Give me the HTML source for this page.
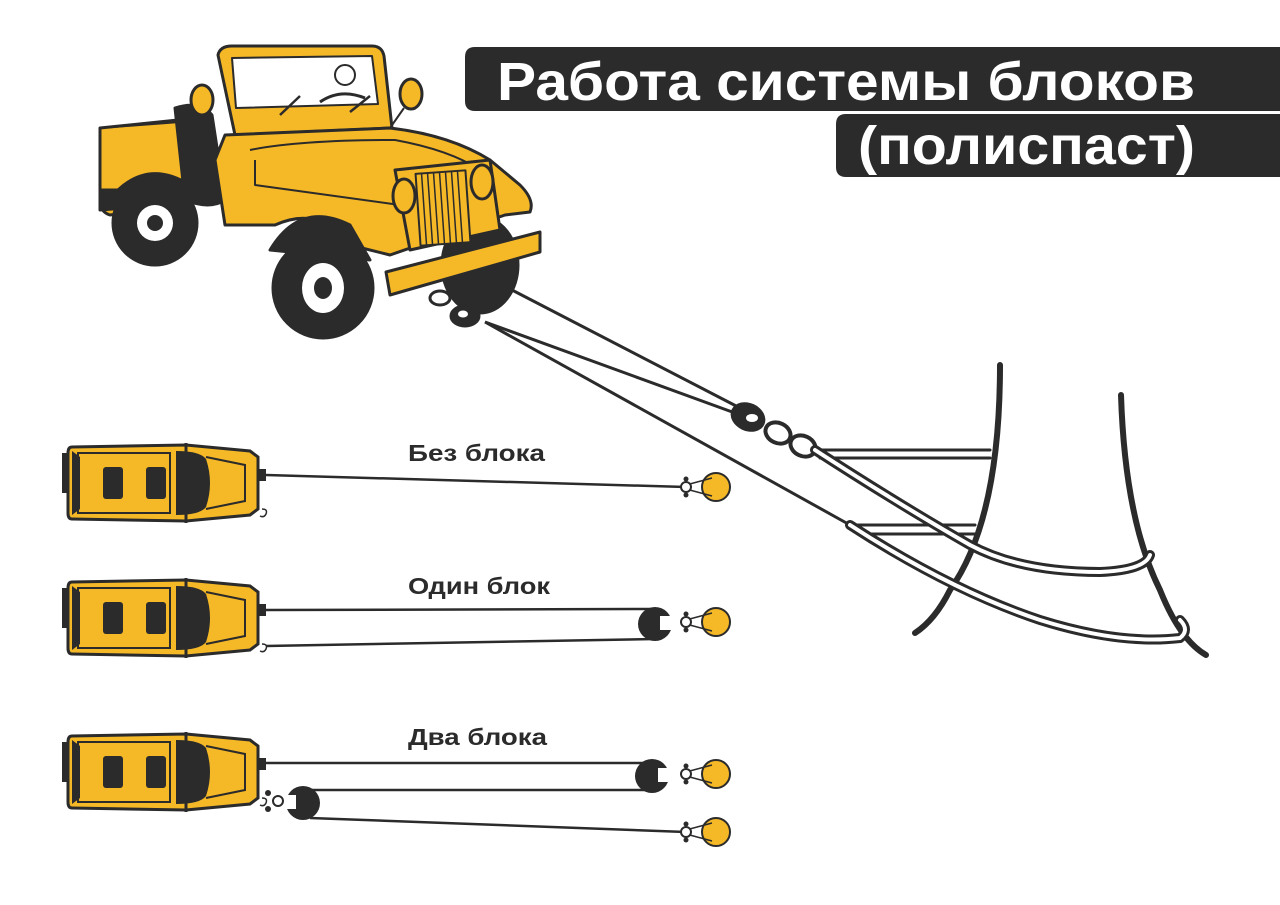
<!DOCTYPE html>
<html><head><meta charset="utf-8"><style>
html,body{margin:0;padding:0;background:#fff;}
svg{display:block}
text{font-family:"Liberation Sans","DejaVu Sans",sans-serif;font-weight:bold}
</style></head><body>
<svg width="1280" height="905" viewBox="0 0 1280 905" xmlns="http://www.w3.org/2000/svg">
<defs>
<g id="car">
  <rect x="62" y="10" width="12" height="40" fill="#2b2b2b"/>
  <path d="M72 4 L186 2 L250 8 L258 14 L258 66 L250 72 L186 78 L72 76 Q68 76 68 70 L68 10 Q68 4 72 4Z" fill="#f5b827" stroke="#2b2b2b" stroke-width="3"/>
  <path d="M78 10 L170 10 L170 70 L78 70Z" fill="none" stroke="#2b2b2b" stroke-width="2"/>
  <path d="M72 8 L80 14 L80 66 L72 72" fill="#2b2b2b"/>
  <rect x="103" y="24" width="20" height="32" rx="3" fill="#2b2b2b"/>
  <rect x="146" y="24" width="20" height="32" rx="3" fill="#2b2b2b"/>
  <path d="M176 8 Q200 8 206 16 Q214 40 206 64 Q200 72 176 72 Z" fill="#2b2b2b"/>
  <line x1="186" y1="0" x2="186" y2="80" stroke="#2b2b2b" stroke-width="3"/>
  <path d="M206 14 L245 22 L245 58 L206 66" fill="none" stroke="#2b2b2b" stroke-width="2"/>
  <rect x="258" y="26" width="8" height="12" fill="#2b2b2b"/>
  <path d="M262 66 q6 0 4 5 q-2 4 -6 2" fill="none" stroke="#2b2b2b" stroke-width="1.5"/>
</g>
<g id="anchor">
  <circle cx="0" cy="0" r="14" fill="#f5b827" stroke="#2b2b2b" stroke-width="2"/>
  <path d="M-4 -9 L-30 -2 M-4 9 L-30 2" stroke="#2b2b2b" stroke-width="1.5"/>
  <circle cx="-30" cy="0" r="5" fill="#fff" stroke="#2b2b2b" stroke-width="2"/>
  <circle cx="-30" cy="-8" r="2.5" fill="#2b2b2b"/><circle cx="-30" cy="8" r="2.5" fill="#2b2b2b"/>
</g>
</defs>

<!-- Title -->
<path d="M475 47 L1280 47 L1280 111 L475 111 Q465 111 465 101 L465 57 Q465 47 475 47Z" fill="#2b2b2b"/>
<path d="M846 114 L1280 114 L1280 177 L846 177 Q836 177 836 167 L836 124 Q836 114 846 114Z" fill="#2b2b2b"/>
<text x="497" y="100" font-size="54" fill="#fff" textLength="698" lengthAdjust="spacingAndGlyphs">Работа системы блоков</text>
<text x="858" y="164" font-size="54" fill="#fff" textLength="337" lengthAdjust="spacingAndGlyphs">(полиспаст)</text>

<!-- Jeep -->
<g stroke="#2b2b2b" stroke-width="3" stroke-linejoin="round">
  <!-- rear bed -->
  <path d="M100 128 L178 120 L185 205 L110 215 Q100 212 100 200 Z" fill="#f5b827"/>
  <path d="M100 128 L180 122" fill="none" stroke-width="2"/>
  <path d="M100 190 L100 210 L125 208 L125 190Z" fill="#2b2b2b"/>
  <!-- rear wheel -->
  <path d="M118 190 Q150 160 190 185 L195 225 Z" fill="#2b2b2b"/>
  <circle cx="155" cy="223" r="42" fill="#2b2b2b"/>
  <circle cx="155" cy="223" r="18" fill="#fff" stroke="none"/>
  <circle cx="155" cy="223" r="8" fill="#2b2b2b" stroke="none"/>
  <!-- seat -->
  <path d="M175 108 Q200 100 212 115 L225 200 Q210 210 185 200Z" fill="#2b2b2b"/>
  <!-- windshield frame -->
  <path d="M218 55 Q220 46 232 46 L372 46 Q382 46 384 56 L392 128 L235 135Z" fill="#f5b827"/>
  <path d="M232 58 L372 56 L378 104 L236 108Z" fill="#fff" stroke-width="2"/>
  <circle cx="345" cy="75" r="10" fill="#fff" stroke-width="2"/>
  <path d="M320 102 Q340 88 365 98" fill="none" stroke-width="3"/>
  <path d="M280 115 L300 96 M350 112 L370 96" stroke-width="2.5"/>
  <!-- mirrors -->
  <ellipse cx="202" cy="100" rx="11" ry="15" fill="#f5b827"/>
  <ellipse cx="411" cy="94" rx="11" ry="15" fill="#f5b827"/>
  <path d="M404 108 L390 128" stroke-width="2"/>
  <!-- body -->
  <path d="M225 135 L390 128 Q450 135 490 160 L520 185 Q535 200 530 212 L505 215 L390 255 L350 245 Q320 205 275 225 L225 225 L215 160 Z" fill="#f5b827"/>
  <path d="M250 150 Q300 140 395 140 Q450 150 480 170" fill="none" stroke-width="2"/>
  <path d="M255 160 L255 185 L400 205" fill="none" stroke-width="2"/>
  <!-- front wheel -->
  <path d="M270 250 Q300 200 350 225 L370 260 Z" fill="#2b2b2b"/>
  <circle cx="323" cy="288" r="50" fill="#2b2b2b"/>
  <ellipse cx="323" cy="288" rx="21" ry="25" fill="#fff" stroke="none"/>
  <ellipse cx="323" cy="288" rx="9" ry="11" fill="#2b2b2b" stroke="none"/>
  <!-- right front wheel -->
  <ellipse cx="480" cy="265" rx="38" ry="48" fill="#2b2b2b"/>
  <!-- grille -->
  <path d="M395 170 L490 160 L500 230 L410 250Z" fill="#f5b827"/>
  <rect x="418" y="172" width="50" height="72" fill="#f5b827" stroke-width="2" transform="rotate(-4 443 208)"/>
  <g stroke-width="1.5"><path d="M424 172 V244 M430 172 V244 M436 172 V244 M442 172 V244 M448 172 V244 M454 172 V244 M460 172 V244" transform="rotate(-4 443 208)"/></g>
  <ellipse cx="404" cy="196" rx="11" ry="17" fill="#f5b827"/>
  <ellipse cx="482" cy="182" rx="11" ry="17" fill="#f5b827"/>
  <!-- bumper -->
  <path d="M386 272 L540 232 L540 252 L390 295Z" fill="#f5b827"/>
  <!-- hook / ring -->
  <ellipse cx="440" cy="298" rx="10" ry="7" fill="none"/>
  <ellipse cx="465" cy="316" rx="14" ry="10" fill="#2b2b2b"/>
  <ellipse cx="463" cy="314" rx="5" ry="3.5" fill="#fff" stroke="none"/>
</g>

<!-- ropes from jeep -->
<g stroke="#2b2b2b" stroke-width="3" fill="none">
  <line x1="512" y1="290" x2="740" y2="408"/>
  <line x1="485" y1="322" x2="735" y2="413"/>
  <line x1="485" y1="322" x2="850" y2="525"/>
</g>
<ellipse cx="748" cy="417" rx="18" ry="14" fill="#2b2b2b" transform="rotate(25 748 417)"/>
<ellipse cx="752" cy="418" rx="6" ry="4" fill="#fff"/>
<ellipse cx="778" cy="433" rx="13" ry="10" fill="none" stroke="#2b2b2b" stroke-width="4" transform="rotate(25 778 433)"/>
<ellipse cx="803" cy="446" rx="13" ry="10" fill="none" stroke="#2b2b2b" stroke-width="4" transform="rotate(25 803 446)"/>

<!-- tree -->
<g stroke="#2b2b2b" stroke-width="6" fill="none" stroke-linecap="round">
  <path d="M1000 365 Q1000 520 950 590 Q935 620 915 633"/>
  <path d="M1121 395 Q1125 520 1160 590 Q1180 640 1206 655"/>
</g>
<!-- straps -->
<g fill="none" stroke="#2b2b2b" stroke-linecap="round">
  <path d="M820 450 L990 450 M820 458 L990 458" stroke-width="3"/>
  <path d="M858 525 L975 525 M858 534 L975 534" stroke-width="3"/>
  <path d="M815 450 Q900 505 970 545 Q1020 572 1100 572 Q1145 570 1150 555" stroke-width="10"/>
  <path d="M815 450 Q900 505 970 545 Q1020 572 1100 572 Q1145 570 1150 555" stroke="#fff" stroke-width="4"/>
  <path d="M850 525 Q950 590 1040 620 Q1120 645 1180 638 Q1190 630 1180 620" stroke-width="10"/>
  <path d="M850 525 Q950 590 1040 620 Q1120 645 1180 638 Q1190 630 1180 620" stroke="#fff" stroke-width="4"/>
</g>

<!-- Без блока -->
<use href="#car" x="0" y="443"/>
<text x="408" y="461" font-size="23" fill="#2b2b2b" textLength="137" lengthAdjust="spacingAndGlyphs">Без блока</text>
<line x1="266" y1="475" x2="686" y2="487" stroke="#2b2b2b" stroke-width="2.5"/>
<use href="#anchor" x="716" y="487"/>

<!-- Один блок -->
<use href="#car" x="0" y="578"/>
<text x="408" y="594" font-size="23" fill="#2b2b2b" textLength="142" lengthAdjust="spacingAndGlyphs">Один блок</text>
<g stroke="#2b2b2b" stroke-width="2.5">
  <line x1="266" y1="610" x2="655" y2="609"/>
  <line x1="266" y1="646" x2="655" y2="639"/>
</g>
<circle cx="655" cy="624" r="17" fill="#2b2b2b"/>
<rect x="660" y="616" width="12" height="14" fill="#fff"/>
<use href="#anchor" x="716" y="622"/>

<!-- Два блока -->
<use href="#car" x="0" y="732"/>
<text x="408" y="745" font-size="23" fill="#2b2b2b" textLength="139" lengthAdjust="spacingAndGlyphs">Два блока</text>
<g stroke="#2b2b2b" stroke-width="2.5">
  <line x1="266" y1="763" x2="650" y2="763"/>
  <line x1="300" y1="790" x2="650" y2="790"/>
  <line x1="310" y1="818" x2="686" y2="832"/>
</g>
<circle cx="652" cy="776" r="17" fill="#2b2b2b"/>
<rect x="658" y="768" width="12" height="14" fill="#fff"/>
<use href="#anchor" x="716" y="774"/>
<circle cx="303" cy="803" r="17" fill="#2b2b2b"/>
<rect x="284" y="795" width="12" height="14" fill="#fff"/>
<circle cx="268" cy="793" r="3" fill="#2b2b2b"/><circle cx="268" cy="809" r="3" fill="#2b2b2b"/>
<circle cx="278" cy="801" r="5" fill="#fff" stroke="#2b2b2b" stroke-width="2"/>
<use href="#anchor" x="716" y="832"/>
</svg>
</body></html>
